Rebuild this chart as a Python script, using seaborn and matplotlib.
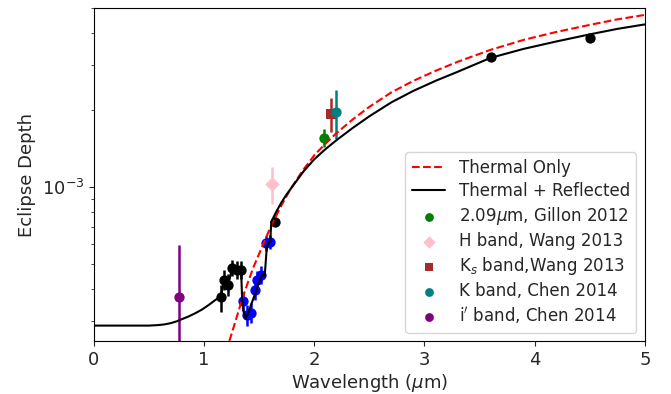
import matplotlib
matplotlib.use("Agg")
import matplotlib.pyplot as plt
import matplotlib.ticker as mticker
import seaborn as sns

# model curves (wavelength in micron, eclipse depth)
thermal_wav = [1.20, 1.25, 1.30, 1.35, 1.40, 1.45, 1.50, 1.55, 1.60, 1.65,
               1.70, 1.75, 1.80, 1.90, 2.00, 2.10, 2.20, 2.35, 2.50, 2.70,
               2.90, 3.10, 3.30, 3.60, 3.90, 4.20, 4.50, 4.75, 5.00]
thermal_depth = [2.274e-4, 2.673e-4, 3.143e-4, 3.694e-4, 4.267e-4, 4.884e-4,
                 5.489e-4, 6.169e-4, 6.934e-4, 7.656e-4, 8.453e-4, 9.248e-4,
                 1.007e-3, 1.168e-3, 1.331e-3, 1.476e-3, 1.623e-3, 1.840e-3,
                 2.059e-3, 2.346e-3, 2.602e-3, 2.847e-3, 3.087e-3, 3.439e-3,
                 3.762e-3, 4.043e-3, 4.305e-3, 4.524e-3, 4.710e-3]

total_wav = [0.0, 0.50, 0.58, 0.64, 0.70, 0.75, 0.80, 0.86, 0.92, 0.98, 1.04,
             1.10, 1.15, 1.18, 1.22, 1.255, 1.30, 1.335, 1.345, 1.36, 1.38,
             1.42, 1.46, 1.50, 1.53, 1.55, 1.57, 1.60, 1.61, 1.65, 1.70, 1.75,
             1.80, 1.90, 2.00, 2.10, 2.20, 2.35, 2.50, 2.70, 2.90, 3.10, 3.30,
             3.60, 3.90, 4.20, 4.50, 4.75, 5.00]
total_depth = [2.872e-4, 2.872e-4, 2.885e-4, 2.903e-4, 2.938e-4, 2.983e-4,
               3.045e-4, 3.120e-4, 3.211e-4, 3.317e-4, 3.454e-4, 3.612e-4,
               3.728e-4, 4.266e-4, 4.152e-4, 4.839e-4, 4.753e-4, 4.839e-4,
               3.629e-4, 3.228e-4, 3.058e-4, 3.406e-4, 3.795e-4, 4.266e-4,
               4.544e-4, 4.502e-4, 5.896e-4, 6.168e-4, 7.318e-4, 7.937e-4,
               8.683e-4, 9.374e-4, 1.003e-3, 1.148e-3, 1.284e-3, 1.405e-3,
               1.523e-3, 1.704e-3, 1.891e-3, 2.144e-3, 2.378e-3, 2.601e-3,
               2.821e-3, 3.200e-3, 3.469e-3, 3.711e-3, 3.953e-3, 4.153e-3,
               4.324e-3]

# unlabelled measurements
nir_wav = [1.15, 1.18, 1.22, 1.255, 1.295, 1.334, 1.64, 3.6, 4.5]
nir_depth = [3.70e-4, 4.34e-4, 4.15e-4, 4.83e-4, 4.75e-4, 4.75e-4, 7.32e-4,
             3.22e-3, 3.82e-3]
nir_err = [0.45e-4, 0.4e-4, 0.4e-4, 0.35e-4, 0.4e-4, 0.4e-4, 0.3e-4,
           0.05e-3, 0.05e-3]

wfc3_wav = [1.355, 1.385, 1.425, 1.46, 1.48, 1.52, 1.56, 1.60]
wfc3_depth = [3.57e-4, 3.17e-4, 3.23e-4, 3.97e-4, 4.34e-4, 4.54e-4, 6.04e-4,
              6.11e-4]
wfc3_err = [0.3e-4, 0.3e-4, 0.3e-4, 0.35e-4, 0.35e-4, 0.35e-4, 0.4e-4, 0.4e-4]

# labelled ground-based points
obs_labels = [r"2.09$\mu$m, Gillon 2012", "H band, Wang 2013",
              r"K$_s$ band,Wang 2013", "K band, Chen 2014",
              r"i$'$ band, Chen 2014"]
obs_wav = [2.09, 1.62, 2.15, 2.20, 0.77]
obs_depth = [1.558e-3, 1.030e-3, 1.933e-3, 1.968e-3, 3.727e-4]
obs_err = [0.13e-3, 0.17e-3, 0.29e-3, 0.43e-3, 2.22e-4]
obs_colors = ["green", "pink", "brown", "teal", "purple"]
obs_markers = ["o", "D", "s", "o", "o"]

sns.set_style("ticks")
plt.rcParams["font.family"] = "DejaVu Sans"
plt.rcParams["axes.edgecolor"] = "black"
plt.rcParams["axes.linewidth"] = 0.8

fig, ax = plt.subplots(figsize=(6.71, 3.94), dpi=100)
fig.subplots_adjust(left=0.140, right=0.961, bottom=0.1345, top=0.979)

for w, d, e, c in [(nir_wav, nir_depth, nir_err, "black"),
                   (wfc3_wav, wfc3_depth, wfc3_err, "blue")]:
    ax.errorbar(w, d, yerr=e, fmt="none", ecolor=c, elinewidth=1.8, zorder=2)
    sns.scatterplot(x=w, y=d, color=c, s=55, linewidth=0, ax=ax, zorder=3)

for lab, w, d, e, c, m in zip(obs_labels, obs_wav, obs_depth, obs_err,
                              obs_colors, obs_markers):
    ax.errorbar([w], [d], yerr=[e], fmt="none", ecolor=c, elinewidth=1.8, zorder=2)
    sns.scatterplot(x=[w], y=[d], color=c, marker=m, s=55, linewidth=0,
                    ax=ax, zorder=3, label=lab)

sns.lineplot(x=thermal_wav, y=thermal_depth, color="red", linestyle="--",
             linewidth=1.5, estimator=None, sort=False, ax=ax,
             label="Thermal Only", zorder=4)
sns.lineplot(x=total_wav, y=total_depth, color="black", linewidth=1.5,
             estimator=None, sort=False, ax=ax,
             label="Thermal + Reflected", zorder=5)

ax.set_yscale("log")
ax.set_xlim(0, 5)
ax.set_ylim(2.5e-4, 5e-3)
ax.yaxis.set_minor_formatter(mticker.NullFormatter())
ax.set_xlabel(r"Wavelength ($\mu$m)", fontsize=13, labelpad=2.5)
ax.set_ylabel("Eclipse Depth", fontsize=13)
ax.tick_params(labelsize=13)

handles, labels = ax.get_legend_handles_labels()
order = ["Thermal Only", "Thermal + Reflected"] + obs_labels
hmap = dict(zip(labels, handles))
ax.legend([hmap[k] for k in order], order, loc="lower right", fontsize=12,
          markerscale=0.85, labelspacing=0.3, frameon=True)

fig.savefig("out.png", dpi=100)
